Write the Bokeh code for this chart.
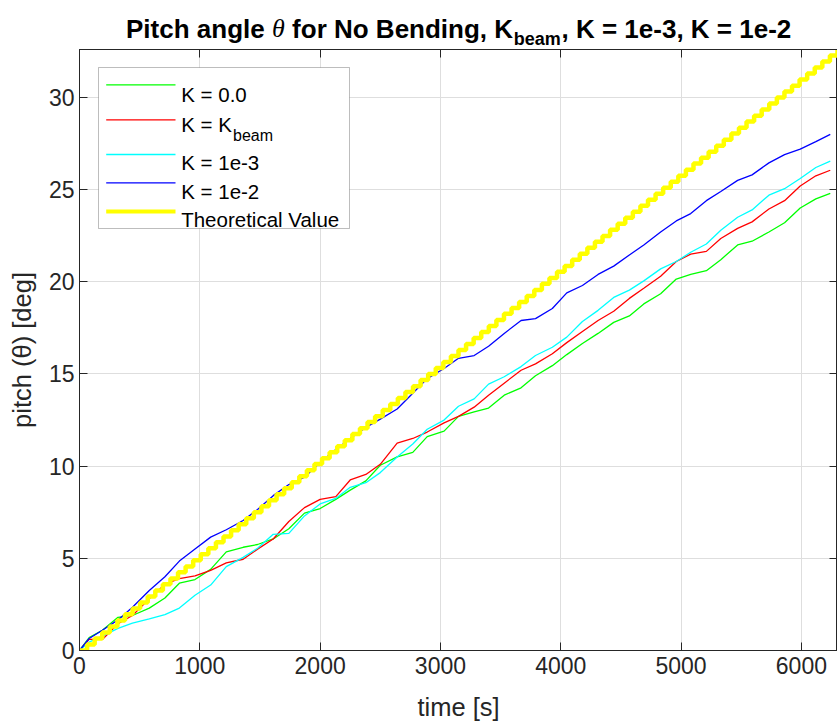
from bokeh.plotting import figure
from bokeh.layouts import column, row
from bokeh.models import Range1d, LinearAxis, Label, BoxAnnotation, FixedTicker
from bokeh.embed import file_html
from bokeh.resources import INLINE

# ---------------- data ----------------
time_s = [0, 80, 190, 320, 440, 580, 710, 830, 960, 1090,
          1220, 1360, 1480, 1610, 1740, 1870, 2000, 2130, 2250, 2380,
          2500, 2640, 2770, 2890, 3030, 3150, 3280, 3400, 3530, 3670,
          3790, 3930, 4050, 4180, 4310, 4440, 4570, 4690, 4830, 4960,
          5080, 5210, 5330, 5470, 5590, 5730, 5860, 5990, 6120, 6240]

pitch_k0 = [0.0, 0.7, 1.1, 1.8, 1.9, 2.3, 2.85, 3.65, 3.85, 4.4,
            5.35, 5.6, 5.75, 6.05, 6.6, 7.45, 7.7, 8.2, 8.7, 9.2,
            10.05, 10.5, 10.75, 11.6, 11.9, 12.7, 12.95, 13.15, 13.85, 14.25,
            14.9, 15.45, 16.05, 16.65, 17.2, 17.8, 18.15, 18.8, 19.35, 20.15,
            20.4, 20.6, 21.2, 22.0, 22.2, 22.7, 23.2, 24.0, 24.5, 24.8]

pitch_kbeam = [0.0, 0.6, 0.6, 1.45, 1.9, 2.8, 3.6, 3.9, 4.05, 4.35,
               4.75, 4.95, 5.5, 6.05, 7.0, 7.75, 8.2, 8.35, 9.25, 9.55,
               10.1, 11.25, 11.5, 11.85, 12.35, 12.7, 13.2, 13.85, 14.5, 15.2,
               15.55, 16.1, 16.7, 17.3, 17.9, 18.4, 19.1, 19.65, 20.3, 21.1,
               21.5, 21.65, 22.35, 22.9, 23.25, 23.95, 24.4, 25.2, 25.75, 26.05]

pitch_k1e3 = [0.0, 0.45, 0.78, 1.2, 1.48, 1.72, 1.95, 2.3, 3.0, 3.55,
              4.55, 5.05, 5.55, 6.3, 6.35, 7.3, 7.95, 8.25, 8.85, 9.1,
              9.65, 10.5, 11.2, 12.0, 12.5, 13.25, 13.65, 14.45, 14.85, 15.4,
              16.0, 16.45, 17.0, 17.85, 18.45, 19.15, 19.55, 20.05, 20.7, 21.1,
              21.6, 22.05, 22.8, 23.5, 23.9, 24.7, 25.05, 25.6, 26.2, 26.55]

pitch_k1e2 = [0.0, 0.65, 1.1, 1.66, 2.35, 3.25, 4.0, 4.85, 5.5, 6.15,
              6.55, 7.05, 7.65, 8.4, 9.0, 9.4, 10.2, 10.9, 11.5, 12.1,
              12.55, 13.1, 13.95, 14.75, 15.3, 15.85, 16.0, 16.5, 17.2, 17.9,
              18.0, 18.55, 19.4, 19.8, 20.4, 20.85, 21.45, 22.0, 22.7, 23.3,
              23.7, 24.4, 24.9, 25.5, 25.8, 26.45, 26.9, 27.2, 27.6, 28.0]

theo_t = [0, 63, 126, 189, 252, 315, 378, 441, 504, 567,
          630, 693, 756, 819, 882, 945, 1008, 1071, 1134, 1197,
          1260, 1323, 1386, 1449, 1512, 1575, 1638, 1701, 1764, 1827,
          1890, 1953, 2016, 2079, 2142, 2205, 2268, 2331, 2394, 2457,
          2520, 2583, 2646, 2709, 2772, 2835, 2898, 2961, 3024, 3087,
          3150, 3213, 3276, 3339, 3402, 3465, 3528, 3591, 3654, 3717,
          3780, 3843, 3906, 3969, 4032, 4095, 4158, 4221, 4284, 4347,
          4410, 4473, 4536, 4599, 4662, 4725, 4788, 4851, 4914, 4977,
          5040, 5103, 5166, 5229, 5292, 5355, 5418, 5481, 5544, 5607,
          5670, 5733, 5796, 5859, 5922, 5985, 6048, 6111, 6174, 6237,
          6300]

theo_deg = [0.00, 0.33, 0.65, 0.98, 1.30, 1.63, 1.96, 2.28, 2.61, 2.93,
            3.26, 3.59, 3.91, 4.24, 4.56, 4.89, 5.22, 5.54, 5.87, 6.19,
            6.52, 6.85, 7.17, 7.50, 7.82, 8.15, 8.48, 8.80, 9.13, 9.45,
            9.78, 10.11, 10.43, 10.76, 11.08, 11.41, 11.74, 12.06, 12.39, 12.71,
            13.04, 13.37, 13.69, 14.02, 14.34, 14.67, 15.00, 15.32, 15.65, 15.97,
            16.30, 16.63, 16.95, 17.28, 17.60, 17.93, 18.26, 18.58, 18.91, 19.23,
            19.56, 19.89, 20.21, 20.54, 20.86, 21.19, 21.52, 21.84, 22.17, 22.49,
            22.82, 23.15, 23.47, 23.80, 24.12, 24.45, 24.78, 25.10, 25.43, 25.75,
            26.08, 26.41, 26.73, 27.06, 27.38, 27.71, 28.04, 28.36, 28.69, 29.01,
            29.34, 29.67, 29.99, 30.32, 30.64, 30.97, 31.30, 31.62, 31.95, 32.27,
            32.60]

x_ticks = [0, 1000, 2000, 3000, 4000, 5000, 6000]
y_ticks = [0, 5, 10, 15, 20, 25, 30]
x_limits = (0, 6300)
y_limits = (0, 32.6)

x_title = "time [s]"
y_title = "pitch (\u03b8) [deg]"
legend_labels = ["K = 0.0", "K = K", "K = 1e-3", "K = 1e-2", "Theoretical Value"]
legend_sub = ["", "beam", "", "", ""]
series_colors = ["#00ff00", "#ff0000", "#00ffff", "#0000ff", "#ffff00"]

# ---------------- layout constants (page px) ----------------
AX = "#262626"
FONT = "Liberation Sans"
PAGE_W, PAGE_H = 837, 727
TITLE_H = 49          # title strip height
FRAME_L, FRAME_T, FRAME_B = 79, 49, 650


def make_label(fig_left, fig_bottom, text, px, py, size, bold=False, italic=False,
               font=FONT, color="black", align="left"):
    """Label positioned from page pixel coords; screen units are frame-relative."""
    style = "normal"
    if bold and italic:
        style = "bold italic"
    elif bold:
        style = "bold"
    elif italic:
        style = "italic"
    return Label(x=px - fig_left, y=fig_bottom - py, x_units="screen", y_units="screen",
                 text=text, text_font=font, text_font_size=f"{size}px",
                 text_font_style=style, text_color=color, text_align=align,
                 text_baseline="alphabetic")


# ---------------- title strip ----------------
title_fig = figure(width=PAGE_W, height=TITLE_H, output_backend="svg",
                   toolbar_location=None, x_range=Range1d(0, PAGE_W),
                   y_range=Range1d(0, TITLE_H), x_axis_type=None, y_axis_type=None,
                   min_border=0, background_fill_color="white",
                   border_fill_color="white")
title_fig.outline_line_color = None
TB = 28.3
for t, px, py, sz, b, it, fnt in [
        ("Pitch angle", 125.5, TB, 26, True, False, FONT),
        ("\u03b8", 271.4, TB, 26, False, True, "Liberation Serif"),
        ("for No Bending, K", 291.6, TB, 26, True, False, FONT),
        ("beam", 513.2, TB + 10.5, 18, True, False, FONT),
        (", K = 1e-3, K = 1e-2", 561.0, TB, 26, True, False, FONT)]:
    title_fig.add_layout(make_label(0, TITLE_H, t, px, py, sz, bold=b, italic=it,
                                    font=fnt))

# ---------------- main figure ----------------
main_h = PAGE_H - TITLE_H
p = figure(width=PAGE_W, height=main_h, output_backend="svg", toolbar_location=None,
           x_range=Range1d(*x_limits), y_range=Range1d(*y_limits),
           min_border_left=FRAME_L, min_border_right=0,
           min_border_top=FRAME_T - TITLE_H, min_border_bottom=PAGE_H - FRAME_B,
           background_fill_color="white", border_fill_color="white")
p.outline_line_color = AX
p.outline_line_width = 1

xa = p.xaxis[0]
ya = p.yaxis[0]
xa.ticker = FixedTicker(ticks=x_ticks)
ya.ticker = FixedTicker(ticks=y_ticks)
top_ax = LinearAxis(ticker=FixedTicker(ticks=x_ticks))
right_ax = LinearAxis(ticker=FixedTicker(ticks=y_ticks))
p.add_layout(top_ax, "above")
p.add_layout(right_ax, "right")
for ax in (xa, ya, top_ax, right_ax):
    ax.major_tick_in = 8
    ax.major_tick_out = 0
    ax.minor_tick_line_color = None
    ax.axis_line_color = AX
    ax.major_tick_line_color = AX
    ax.axis_line_width = 1
    ax.major_tick_line_width = 1
for ax in (top_ax, right_ax):
    ax.major_label_text_font_size = "1px"
    ax.major_label_text_color = None
    ax.major_label_standoff = 0
for ax in (xa, ya):
    ax.major_label_text_font = FONT
    ax.major_label_text_font_size = "23px"
    ax.major_label_text_color = AX
    ax.axis_label_text_font = FONT
    ax.axis_label_text_font_size = "25.5px"
    ax.axis_label_text_font_style = "normal"
    ax.axis_label_text_color = AX
xa.major_label_standoff = 6
ya.major_label_standoff = 5
xa.axis_label = x_title
ya.axis_label = y_title
xa.axis_label_standoff = 16
ya.axis_label_standoff = 10

p.xgrid.ticker = FixedTicker(ticks=x_ticks)
p.ygrid.ticker = FixedTicker(ticks=y_ticks)
for g in (p.xgrid, p.ygrid):
    g.grid_line_color = "#dedede"
    g.grid_line_width = 1

# ---------------- data lines ----------------
p.line(time_s, pitch_k0, line_color=series_colors[0], line_width=1.3)
p.line(time_s, pitch_kbeam, line_color=series_colors[1], line_width=1.3)
p.line(time_s, pitch_k1e3, line_color=series_colors[2], line_width=1.3)
p.line(time_s, pitch_k1e2, line_color=series_colors[3], line_width=1.3)
p.step(theo_t, theo_deg, mode="after", line_color=series_colors[4], line_width=4.5)

# ---------------- legend (inside the frame) ----------------


def fx(px):
    return px - FRAME_L


def fy(py):
    return FRAME_B - py


p.add_layout(BoxAnnotation(left=fx(98), right=fx(349), top=fy(67), bottom=fy(228),
                           left_units="screen", right_units="screen",
                           top_units="screen", bottom_units="screen",
                           fill_color="white", fill_alpha=1.0,
                           line_color=AX, line_width=1))
row_y = [84.3, 119.3, 154.0, 182.3, 211.0]
row_base = [93.5, 124.0, 162.0, 190.5, 219.0]
row_lw = [1.3, 1.3, 1.3, 1.3, 4.0]
for i in range(5):
    h = row_lw[i] / 2
    p.add_layout(BoxAnnotation(left=fx(105.7), right=fx(175), top=fy(row_y[i] - h),
                               bottom=fy(row_y[i] + h),
                               left_units="screen", right_units="screen",
                               top_units="screen", bottom_units="screen",
                               fill_color=series_colors[i], fill_alpha=1.0,
                               line_color=None))
    p.add_layout(make_label(FRAME_L, FRAME_B, legend_labels[i], 180.7, row_base[i], 20.5))
    if legend_sub[i]:
        p.add_layout(make_label(FRAME_L, FRAME_B, legend_sub[i], 232.5,
                                row_base[i] + 10.5, 16))

layout = column(row(title_fig), row(p), spacing=0)
open("out.html", "w").write(file_html(layout, INLINE))
